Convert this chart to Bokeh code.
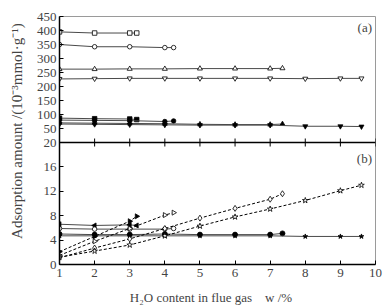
import numpy as np
from bokeh.plotting import figure
from bokeh.models import Range1d, FixedTicker, CustomJSTickFormatter, Span, Label
from bokeh.embed import file_html
from bokeh.resources import INLINE

# ---- data ----
w_g1 = [1, 2, 3, 3.2]
w_g2 = [1, 2, 3, 4, 4.25]
w_g3 = [1, 2, 3, 4, 5, 6, 7, 7.35]
w_g4 = [1, 2, 3, 4, 5, 6, 7, 8, 9, 9.6]

# panel (a)
a_open_sq = [395, 391, 391, 391]
a_open_ci = [350, 342, 342, 339, 339]
a_open_tr = [262, 262, 263, 263, 264, 264, 264, 265]
a_open_it = [227, 228, 229, 229, 229, 229, 229, 228, 229, 229]
a_fill_sq = [87, 85, 84, 82]
a_fill_ci = [80, 79, 78, 75, 77]
a_fill_tr = [70, 69, 68, 67, 65, 64, 64, 66]
a_fill_it = [66, 65, 64, 63, 62, 62, 62, 58, 58, 57]

# panel (b)
b_fill_lt = [6.6, 6.4, 6.5, 6.4]
b_open_ci = [5.9, 5.8, 5.8, 5.8, 5.9]
b_fill_ci = [5.0, 4.9, 4.9, 5.0, 4.9, 4.9, 4.9, 5.1]
b_fill_st = [4.7, 4.7, 4.7, 4.7, 4.7, 4.7, 4.7, 4.6, 4.6, 4.6]
b_fill_rt = [2.1, 4.6, 7.1, 7.9]
b_open_rt = [1.5, 3.8, 5.9, 8.1, 8.5]
b_open_di = [1.1, 2.7, 4.2, 5.9, 7.6, 9.2, 10.7, 11.6]
b_open_st = [1.2, 2.2, 3.2, 4.7, 6.3, 7.8, 9.1, 10.5, 12.1, 13.0]

x_ticks = [1, 2, 3, 4, 5, 6, 7, 8, 9, 10]
b_ticks = [0, 4, 8, 12, 16, 20]
a_ticks = [50, 100, 150, 200, 250, 300, 350, 400, 450]

# ---- geometry ----
W, H = 391, 307
ML, MR, MT, MB = 59, 16, 16, 43
frame_h = H - MT - MB           # 248
h_b = 122                        # px of panel (b)
h_a = frame_h - h_b              # px of panel (a)
b_top = 20.0
ymax = b_top * frame_h / h_b     # default range (panel b units)
k = (ymax - b_top) / 450.0       # panel-b units per panel-a unit

p = figure(width=W, height=H, output_backend="svg", toolbar_location=None,
           x_range=Range1d(1, 10), y_range=Range1d(0, ymax),
           min_border_left=ML, min_border_right=MR, min_border_top=MT,
           min_border_bottom=MB)
p.extra_y_ranges = {"a": Range1d(-450.0 * h_b / h_a, 450)}

p.xgrid.visible = False
p.ygrid.visible = False
p.background_fill_color = "white"
p.border_fill_color = "white"
p.outline_line_color = "#9a9a9a"
p.outline_line_width = 1

FONT = "Liberation Serif"
NB = "\u00a0"

# axes
xa = p.xaxis[0]
xa.ticker = FixedTicker(ticks=x_ticks)
xa.major_tick_in = 4
xa.major_tick_out = 0
xa.minor_tick_line_color = None
xa.axis_line_color = "black"
xa.axis_line_width = 1.5
xa.major_label_text_font = FONT
xa.major_label_text_font_size = "13px"
xa.major_label_standoff = 4
xa.axis_label = "H\u2082O content in flue gas" + NB * 4 + "w /%" + NB * 4
xa.axis_label_text_font = FONT
xa.axis_label_text_font_size = "13px"
xa.axis_label_text_font_style = "normal"
xa.axis_label_standoff = 10

ya = p.yaxis[0]
ya.ticker = FixedTicker(ticks=b_ticks + [b_top + v * k for v in a_ticks])
ya.formatter = CustomJSTickFormatter(args=dict(k=k, top=b_top), code="""
    if (tick <= top + 1e-6) { return tick.toFixed(0); }
    return Math.round((tick - top) / k).toFixed(0);
""")
ya.major_tick_in = 4
ya.major_tick_out = 0
ya.minor_tick_line_color = None
ya.axis_line_color = "black"
ya.axis_line_width = 1.5
ya.major_label_text_font = FONT
ya.major_label_text_font_size = "13px"
ya.major_label_standoff = 3
ya.axis_label = NB * 5 + "Adsorption amount /(10\u207b\u00b3mmol\u00b7g\u207b\u00b9)"
ya.axis_label_text_font = FONT
ya.axis_label_text_font_size = "15px"
ya.axis_label_text_font_style = "normal"
ya.axis_label_standoff = 9

# panel boundary
p.add_layout(Span(location=b_top, dimension="width", line_color="black", line_width=1.5))
tick_len = 4 * ymax / frame_h
p.segment(x0=x_ticks, y0=[b_top - tick_len] * len(x_ticks),
          x1=x_ticks, y1=[b_top + tick_len] * len(x_ticks),
          line_color="black", line_width=1)

LC = "#4a4a4a"
# panel (a)
def solid_a(xs, ys, marker, filled, size=5, angle=0.0):
    p.line(xs, ys, y_range_name="a", line_color=LC, line_width=1)
    p.scatter(xs, ys, y_range_name="a", marker=marker, size=size, angle=angle,
              line_color="black", line_width=0.8,
              fill_color="black" if filled else "white")

solid_a(w_g1, a_open_sq, "square", False, 4.5)
solid_a(w_g2, a_open_ci, "circle", False, 4.5)
solid_a(w_g3, a_open_tr, "triangle", False, 5)
solid_a(w_g4, a_open_it, "inverted_triangle", False, 5)
solid_a(w_g1, a_fill_sq, "square", True, 4.5)
solid_a(w_g2, a_fill_ci, "circle", True, 4.5)
solid_a(w_g3, a_fill_tr, "triangle", True, 5)
solid_a(w_g4, a_fill_it, "inverted_triangle", True, 5)

# panel (b)
def series_b(xs, ys, marker, filled, dash, size=5, angle=0.0):
    p.line(xs, ys, line_color=LC if dash == "solid" else "black", line_width=1,
           line_dash=dash)
    p.scatter(xs, ys, marker=marker, size=size, angle=angle,
              line_color="black", line_width=0.8,
              fill_color="black" if filled else "white")

series_b(w_g1, b_fill_lt, "triangle", True, "solid", 5, np.pi / 2)
series_b(w_g2, b_open_ci, "circle", False, "solid", 4.5)
series_b(w_g3, b_fill_ci, "circle", True, "solid", 5)
series_b(w_g4, b_fill_st, "star", True, "solid", 5)
series_b(w_g1, b_fill_rt, "triangle", True, "3 2", 5, -np.pi / 2)
series_b(w_g2, b_open_rt, "triangle", False, "3 2", 5, -np.pi / 2)
series_b(w_g3, b_open_di, "diamond", False, "3 2", 6)
series_b(w_g4, b_open_st, "star", False, "3 2", 6)

# panel tags
p.add_layout(Label(x=9.9, y=436, y_range_name="a", text="(a)", text_align="right",
                   text_baseline="top", text_font=FONT, text_font_size="13px"))
p.add_layout(Label(x=9.9, y=18.6, text="(b)", text_align="right",
                   text_baseline="top", text_font=FONT, text_font_size="13px"))

open("out.html", "w").write(file_html(p, INLINE))
